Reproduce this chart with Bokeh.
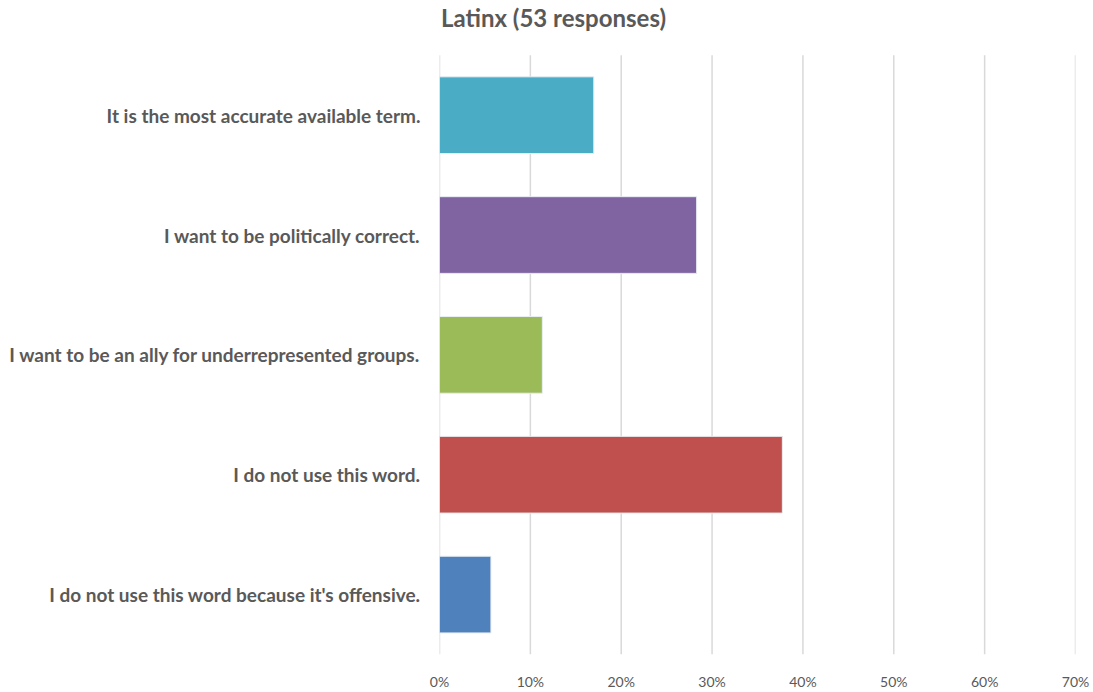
from bokeh.plotting import figure
from bokeh.models import ColumnDataSource, NumeralTickFormatter, FixedTicker, Range1d, Label
from bokeh.embed import file_html
from bokeh.resources import INLINE

title_text = "Latinx (53 responses)"
categories = [
    "It is the most accurate available term.",
    "I want to be politically correct.",
    "I want to be an ally for underrepresented groups.",
    "I do not use this word.",
    "I do not use this word because it's offensive.",
]
counts = [9, 15, 6, 20, 3]
total = 53
shares = [c / total for c in counts]
colors = ["#4BACC6", "#8064A2", "#9BBB59", "#C0504D", "#4F81BD"]
ticks = [0, 0.1, 0.2, 0.3, 0.4, 0.5, 0.6, 0.7]

n = len(categories)
ypos = [n - i - 0.5 for i in range(n)]          # category slots, first at top
top_room = 55 / 120.4                           # headroom (in category units) for the title

src = ColumnDataSource(dict(y=ypos, val=shares, color=colors))

p = figure(
    width=1093, height=692,
    y_range=Range1d(0, n + top_room),
    x_range=Range1d(0, 0.7),
    output_backend="svg", toolbar_location=None,
    min_border_left=439, min_border_right=18, min_border_top=0, min_border_bottom=35,
)

# vertical gridlines, only over the category area
p.segment(x0=ticks, x1=ticks, y0=[0] * len(ticks), y1=[n] * len(ticks),
          line_color="#D9D9D9", line_width=1.5)

p.hbar(y="y", right="val", left=0, height=0.64, color="color", source=src,
       line_color="#E8EEF2", line_width=1)

p.add_layout(Label(
    x=0.1255, y=n + 38 / 120.4,
    text=title_text, text_font="Lato", text_font_size="24px", text_font_style="bold",
    text_color="#595959", text_align="center", text_baseline="middle",
))

p.outline_line_color = None
p.background_fill_color = "white"
p.border_fill_color = "white"
p.xgrid.grid_line_color = None
p.ygrid.grid_line_color = None

p.xaxis.ticker = FixedTicker(ticks=ticks)
p.xaxis.formatter = NumeralTickFormatter(format="0%")
p.xaxis.axis_line_color = None
p.xaxis.major_tick_line_color = None
p.xaxis.minor_tick_line_color = None
p.xaxis.major_label_text_font = "Lato"
p.xaxis.major_label_text_font_size = "14px"
p.xaxis.major_label_text_color = "#595959"
p.xaxis.major_label_standoff = 12

p.yaxis.ticker = FixedTicker(ticks=ypos)
p.yaxis.major_label_overrides = {y: c for y, c in zip(ypos, categories)}
p.yaxis.axis_line_color = None
p.yaxis.major_tick_line_color = None
p.yaxis.minor_tick_line_color = None
p.yaxis.major_label_text_font = "Lato"
p.yaxis.major_label_text_font_size = "19px"
p.yaxis.major_label_text_font_style = "bold"
p.yaxis.major_label_text_color = "#595959"
p.yaxis.major_label_standoff = 13

open("out.html", "w").write(file_html(p, INLINE))
